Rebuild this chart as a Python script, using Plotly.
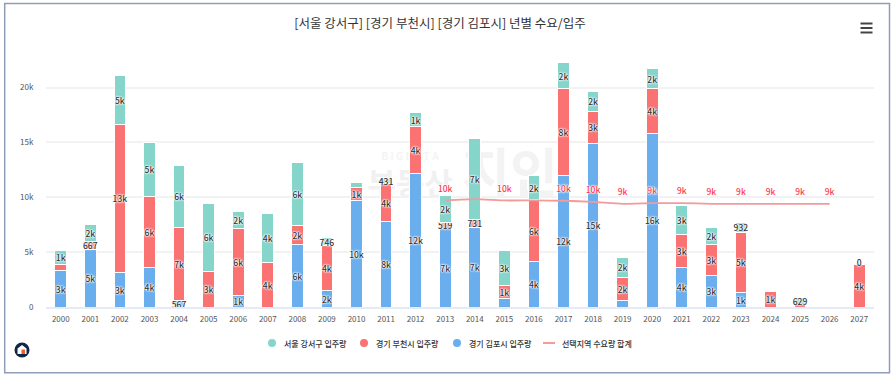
import plotly.graph_objects as go

W, H = 893, 379
L, R, T, B = 46, 19, 60, 72
FONT = "Noto Sans CJK KR"

years = [str(y) for y in range(2000, 2028)]
blue = [3300, 5280, 3160, 3580, 567, 0, 1060, 0, 5740, 1510, 9685, 7760, 12140, 7195,
        7290, 820, 4130, 12000, 14940, 577, 15850, 3640, 2850, 1365, 0, 0, 0, 0]
red = [550, 667, 13480, 6470, 6660, 3250, 6070, 4040, 1730, 4080, 1245, 3530, 4280, 519,
       731, 1120, 5645, 7920, 2910, 2125, 4070, 2945, 2885, 5435, 1400, 243, 0, 3920]
green = [1340, 1600, 4510, 4980, 5700, 6190, 1610, 4490, 5730, 746, 425, 431, 1340, 2456,
         7340, 3250, 2185, 2335, 1820, 1820, 1820, 2640, 1550, 932, 0, 629, 0, 0]
demand_years = years[13:27]
demand = [9715, 9840, 9715, 9715, 9685, 9590, 9410, 9470, 9470, 9410, 9410, 9410, 9410, 9410]
hidden_blue = {"2015", "2019"}
hidden_red = {"2000", "2025"}
hidden_green = {"2010"}
hidden_demand = {"2014", "2016"}
ytick_vals = [0, 5000, 10000, 15000, 20000]
ytick_text = ["0", "5k", "10k", "15k", "20k"]
title = "[서울 강서구] [경기 부천시] [경기 김포시] 년별 수요/입주"
names = ["서울 강서구 입주량", "경기 부천시 입주량", "경기 김포시 입주량", "선택지역 수요량 합계"]
C_GREEN, C_RED, C_BLUE, C_LINE = "#85D5CA", "#FA7272", "#6AAEEE", "#F39A9A"


def fmt(v):
    return str(v) if v < 1000 else f"{round(v / 1000)}k"


def labels(vals, hidden):
    return ["" if (v == 0 or y in hidden) else fmt(v) for y, v in zip(years, vals)]


def px(x):
    return (x - L) / (W - L - R)


def py(y):
    return (H - B - y) / (H - T - B)


HALO = "0 0 1px #fff, 0 0 1px #fff, 0 0 2px #fff, 0 0 2px #fff, 0 0 3px #fff"
LABEL_FONT = dict(size=8.5, color="#333333", family=FONT, shadow=HALO, weight=500)
fig = go.Figure()
for vals, hid, col, nm in [(blue, hidden_blue, C_BLUE, names[2]), (red, hidden_red, C_RED, names[1]),
                           (green, hidden_green, C_GREEN, names[0])]:
    fig.add_bar(
        x=years, y=vals, name=nm, text=labels(vals, hid), textposition="inside", insidetextanchor="middle",
        constraintext="none", textangle=0, cliponaxis=False, showlegend=False, hoverinfo="x+y",
        textfont=LABEL_FONT, insidetextfont=LABEL_FONT,
        marker=dict(color=col, line=dict(color="#ffffff", width=1)),
    )

# the "0" label sitting on top of the 2027 column
fig.add_scatter(x=[years[-1]], y=[red[-1] + green[-1]], mode="text", text=[fmt(green[-1])],
                textposition="middle center", showlegend=False, hoverinfo="skip", cliponaxis=False,
                textfont=LABEL_FONT)

fig.add_scatter(x=demand_years, y=demand, mode="lines+markers+text", name=names[3],
                text=["" if y in hidden_demand else fmt(v) for y, v in zip(demand_years, demand)],
                textposition="top center", showlegend=False, cliponaxis=False,
                marker=dict(size=9, color="rgba(0,0,0,0)"),
                line=dict(color=C_LINE, width=1.8, shape="spline", smoothing=0.5),
                textfont=dict(size=8.5, color="#FF3B4E", family=FONT, shadow=HALO, weight=500))

shapes = []
annotations = []
# frame
shapes.append(dict(type="rect", xref="paper", yref="paper", x0=px(4.7), x1=px(889.5), y0=py(372.7), y1=py(3.5),
                   line=dict(color="#8F9DB8", width=1.5), layer="below"))
# hamburger menu
for yy in (23.5, 28, 32.5):
    shapes.append(dict(type="line", xref="paper", yref="paper", x0=px(860.5), x1=px(872.5), y0=py(yy), y1=py(yy),
                       line=dict(color="#444444", width=2)))
# logo
shapes.append(dict(type="circle", xref="paper", yref="paper", x0=px(14.5), x1=px(29.5), y0=py(357.5), y1=py(342.5),
                   fillcolor="#10254A", line=dict(width=0)))
shapes.append(dict(type="path", xref="paper", yref="paper", fillcolor="#ffffff", line=dict(width=0),
                   path=f"M {px(17.5)} {py(354)} L {px(17.5)} {py(348.5)} L {px(22)} {py(345)} "
                        f"L {px(26.5)} {py(348.5)} L {px(26.5)} {py(354)} Z"))
shapes.append(dict(type="rect", xref="paper", yref="paper", x0=px(21.5), x1=px(25), y0=py(354), y1=py(349.5),
                   fillcolor="#E8622A", line=dict(width=0)))
# watermark, below the bars
for text, x0, x1, y0, y1, size, col in [
    ("B I G D A T A", 360, 460, 150, 164, 10, "#F4F4F4"),
    ("부동산", 362, 458, 168, 204, 31, "#F1F1F1"),
    ("지인", 458, 562, 150, 204, 52, "#F3F3F3"),
]:
    shapes.append(dict(type="rect", xref="paper", yref="paper", x0=px(x0), x1=px(x1), y0=py(y1), y1=py(y0),
                       line=dict(width=0), fillcolor="rgba(0,0,0,0)", layer="below",
                       label=dict(text=text, textposition="middle center",
                                  font=dict(size=size, color=col, family=FONT, weight=700))))
# legend
LEG_Y = 343
for nm, col, cx in zip(names[:3], [C_GREEN, C_RED, C_BLUE], [272, 364, 457]):
    shapes.append(dict(type="circle", xref="paper", yref="paper", x0=px(cx - 4), x1=px(cx + 4),
                       y0=py(LEG_Y + 4), y1=py(LEG_Y - 4), fillcolor=col, line=dict(width=0)))
    annotations.append(dict(text=nm, xref="paper", yref="paper", x=px(cx + 10), y=py(LEG_Y), xanchor="left",
                            yanchor="middle", showarrow=False, font=dict(size=8, color="#333333", family=FONT, weight=500)))
shapes.append(dict(type="line", xref="paper", yref="paper", x0=px(543), x1=px(555), y0=py(LEG_Y), y1=py(LEG_Y),
                   line=dict(color=C_LINE, width=2)))
annotations.append(dict(text=names[3], xref="paper", yref="paper", x=px(560), y=py(LEG_Y), xanchor="left",
                        yanchor="middle", showarrow=False, font=dict(size=8, color="#333333", family=FONT, weight=500)))

fig.update_layout(
    width=W, height=H, autosize=False,
    margin=dict(l=L, r=R, t=T, b=B, autoexpand=False),
    paper_bgcolor="#ffffff", plot_bgcolor="rgba(0,0,0,0)",
    barmode="stack", bargap=0.6, showlegend=False,
    font=dict(family=FONT, color="#666666", size=8),
    title=dict(text=title, x=440 / W, xref="container", xanchor="center", y=1 - 24 / H, yanchor="middle",
               font=dict(size=12.5, color="#333333", family=FONT)),
    xaxis=dict(type="category", categoryorder="array", categoryarray=years, range=[-0.5, 27.5],
               showgrid=False, showline=True, linecolor="#E6EAF6", linewidth=2, tickfont=dict(size=8, color="#555555"),
               ticks="outside", ticklen=3, tickcolor="rgba(0,0,0,0)", tickangle=0, zeroline=False, automargin=False),
    yaxis=dict(range=[0, 22520], tickvals=ytick_vals, ticktext=ytick_text, gridcolor="#F2F2F2", gridwidth=2,
               zeroline=False, showline=False, ticks="outside", ticklen=10, tickcolor="rgba(0,0,0,0)",
               tickfont=dict(size=8, color="#555555"), automargin=False),
    shapes=shapes, annotations=annotations,
)
fig.write_html("out.html", config={"displayModeBar": False},
               post_script="document.body.style.margin='0';document.body.style.overflow='hidden';")
